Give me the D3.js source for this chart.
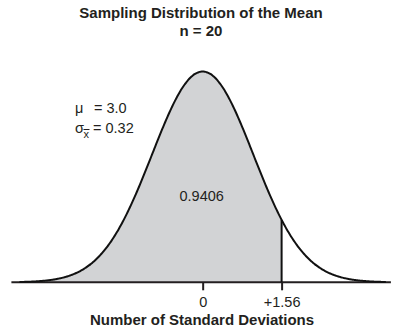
<!DOCTYPE html>
<html>
<head>
<meta charset="utf-8">
<script src="https://cdn.jsdelivr.net/npm/d3@7/dist/d3.min.js"></script>
<style>
  html, body { margin: 0; padding: 0; background: #fff; }
  svg { display: block; }
  text { font-family: "Liberation Sans", Arial, Helvetica, sans-serif; fill: #231f20; }
</style>
</head>
<body>
<svg id="chart" width="393" height="333"></svg>
<script>
// Chart parameters
const sampleSize = 20;
const mu = 3.0;
const sigmaXbar = 0.32;
const zCut = 1.56;            // upper bound of the shaded region, in SDs
const shadedArea = 0.9406;    // P(Z < 1.56)
const tickValues = [0, 1.56];
const tickLabels = ["0", "+1.56"];
const titleLines = ["Sampling Distribution of the Mean", "n = " + sampleSize];
const xAxisTitle = "Number of Standard Deviations";

const W = 393, H = 333;
const svg = d3.select("#chart");

// Standard normal density
const pdf = z => Math.exp(-z * z / 2) / Math.sqrt(2 * Math.PI);

// Horizontal scale in standard-deviation units
const x = d3.scaleLinear().domain([-3.78, 3.72]).range([11.4, 390.9]);
const y = d3.scaleLinear().domain([0, pdf(0)]).range([282.3, 71.5]);

const curveStart = -3.62, curveEnd = 3.62;
const zs = d3.range(curveStart, curveEnd + 1e-9, 0.02);
const curvePts = zs.map(z => [z, pdf(z)]);
const shadedPts = zs.filter(z => z <= zCut).map(z => [z, pdf(z)]);
shadedPts.push([zCut, pdf(zCut)]);

// Shaded area
svg.append("path")
  .datum(shadedPts)
  .attr("fill", "#d2d3d5")
  .attr("d", d3.area().x(d => x(d[0])).y0(y(0)).y1(d => y(d[1])));

// Axis line
svg.append("line")
  .attr("x1", x.range()[0]).attr("x2", x.range()[1])
  .attr("y1", y(0)).attr("y2", y(0))
  .attr("stroke", "#231f20").attr("stroke-width", 2);

// Density curve
svg.append("path")
  .datum(curvePts)
  .attr("fill", "none")
  .attr("stroke", "#111")
  .attr("stroke-width", 2)
  .attr("d", d3.line().x(d => x(d[0])).y(d => y(d[1])).curve(d3.curveBasis));

// Cut-off line at +1.56
svg.append("line")
  .attr("x1", x(zCut)).attr("x2", x(zCut))
  .attr("y1", y(pdf(zCut))).attr("y2", y(0))
  .attr("stroke", "#111").attr("stroke-width", 2);

// Ticks and labels
const axisG = svg.append("g").attr("transform", `translate(0,${y(0)})`);
const axis = d3.axisBottom(x)
  .tickValues(tickValues)
  .tickFormat((d, i) => tickLabels[i])
  .tickSize(8)
  .tickPadding(6);
axisG.call(axis);
axisG.select(".domain").remove();
axisG.selectAll(".tick line").attr("stroke", "#231f20").attr("stroke-width", 2);
axisG.selectAll(".tick text")
  .attr("font-family", "Liberation Sans, Arial, sans-serif")
  .attr("font-size", 14.5)
  .attr("fill", "#231f20")
  .attr("dy", null)
  .attr("y", 24.3);

// Title
svg.selectAll("text.title")
  .data(titleLines)
  .enter().append("text")
  .attr("class", "title")
  .attr("x", 201)
  .attr("y", (d, i) => 18 + i * 17.5)
  .attr("text-anchor", "middle")
  .attr("font-size", 15)
  .attr("font-weight", "bold")
  .text(d => d);

// Axis title
svg.append("text")
  .attr("x", 202)
  .attr("y", 325)
  .attr("text-anchor", "middle")
  .attr("font-size", 15)
  .attr("font-weight", "bold")
  .text(xAxisTitle);

// Shaded-area label
svg.append("text")
  .attr("x", 201.7)
  .attr("y", 200.5)
  .attr("text-anchor", "middle")
  .attr("font-size", 14.5)
  .text(shadedArea.toFixed(4));

// Parameter annotations
const ann = svg.append("g").attr("font-size", 14.5);
ann.append("text").attr("x", 75).attr("y", 113).text("\u03bc");
ann.append("text").attr("x", 94).attr("y", 113).text("= " + mu.toFixed(1));
ann.append("text").attr("x", 75).attr("y", 133).text("\u03c3");
ann.append("text").attr("x", 83.5).attr("y", 137.5).attr("font-size", 11).text("x");
ann.append("line")
  .attr("x1", 83.5).attr("x2", 89.5).attr("y1", 129.5).attr("y2", 129.5)
  .attr("stroke", "#231f20").attr("stroke-width", 1);
ann.append("text").attr("x", 93).attr("y", 133).text("= " + sigmaXbar.toFixed(2));
</script>
</body>
</html>
